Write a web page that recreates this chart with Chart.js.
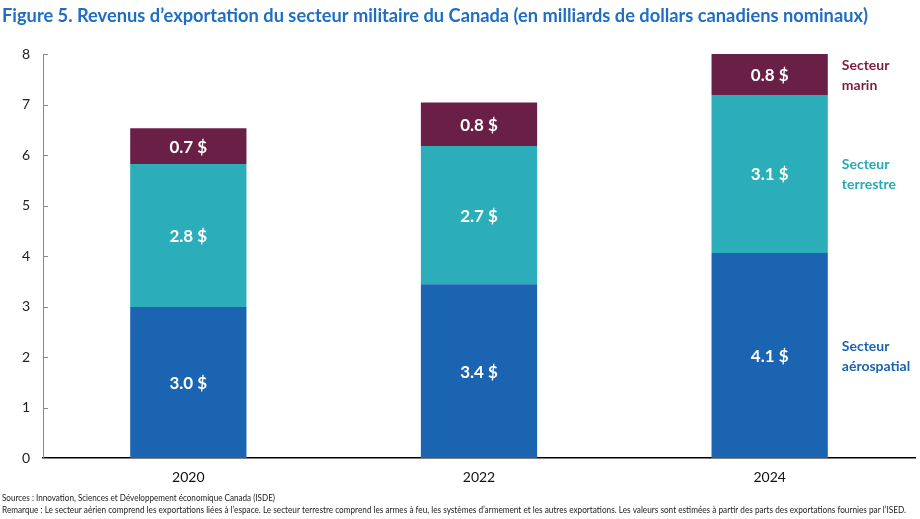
<!DOCTYPE html>
<html lang="fr">
<head>
    <meta charset="UTF-8">
    <title>Revenus d'exportation du secteur militaire du Canada</title>
    <script src="https://cdn.jsdelivr.net/npm/chart.js"></script>
    <style>
        html, body { margin: 0; padding: 0; background: #fff; }
        #wrap { width: 920px; height: 519px; position: relative; }
    </style>
</head>
<body>
    <div id="wrap"><canvas id="exportChart"></canvas></div>

    <script>
        // Data (milliards de $ CA nominaux)
        const years = ['2020', '2022', '2024'];
        const aerospatial = [2.99, 3.44, 4.06];
        const terrestre = [2.83, 2.74, 3.13];
        const marin = [0.71, 0.86, 0.81];
        const aeroLabels = ['3.0 $', '3.4 $', '4.1 $'];
        const terrestreLabels = ['2.8 $', '2.7 $', '3.1 $'];
        const marinLabels = ['0.7 $', '0.8 $', '0.8 $'];
        const yTicks = [0, 1, 2, 3, 4, 5, 6, 7, 8];
        const seriesNames = [['Secteur', 'aérospatial'], ['Secteur', 'terrestre'], ['Secteur', 'marin']];

        const titleText = 'Figure 5. Revenus d\u2019exportation du secteur militaire du Canada (en milliards de dollars canadiens nominaux)';
        const sourceText = 'Sources : Innovation, Sciences et Développement économique Canada (ISDE)';
        const noteText = 'Remarque : Le secteur aérien comprend les exportations liées à l\u2019espace. Le secteur terrestre comprend les armes à feu, les systèmes d\u2019armement et les autres exportations. Les valeurs sont estimées à partir des parts des exportations fournies par l\u2019ISED.';

        const FONT = 'Lato, "Open Sans", sans-serif';
        const colors = ['#1B64B1', '#2CAEBA', '#6A2046'];
        const nameColors = ['#1B64B1', '#27A9B7', '#7A1D42'];

        // labels inside bars, series names, inside ticks, title and notes
        const decorPlugin = {
            id: 'decor',
            afterDraw(chart) {
                const ctx = chart.ctx;
                const allLabels = [aeroLabels, terrestreLabels, marinLabels];
                ctx.save();
                ctx.textAlign = 'center';
                ctx.textBaseline = 'middle';
                ctx.fillStyle = '#fff';
                ctx.font = 'bold 17px ' + FONT;
                chart.data.datasets.forEach((ds, i) => {
                    chart.getDatasetMeta(i).data.forEach((bar, j) => {
                        ctx.fillText(allLabels[i][j], bar.x, (bar.y + bar.base) / 2 + 1);
                    });
                });

                // series names next to the last bar
                ctx.textAlign = 'left';
                ctx.font = 'bold 14px ' + FONT;
                chart.data.datasets.forEach((ds, i) => {
                    const meta = chart.getDatasetMeta(i);
                    const bar = meta.data[meta.data.length - 1];
                    const cy = (bar.y + bar.base) / 2;
                    ctx.fillStyle = nameColors[i];
                    const lines = seriesNames[i];
                    lines.forEach((ln, k) => {
                        ctx.fillText(ln, bar.x + bar.width / 2 + 14, cy + 1 + (k - (lines.length - 1) / 2) * 20);
                    });
                });

                // y ticks drawn inside the plot
                const y = chart.scales.y;
                ctx.strokeStyle = '#888';
                ctx.lineWidth = 1;
                yTicks.forEach(v => {
                    const py = Math.round(y.getPixelForValue(v)) + 0.5;
                    ctx.beginPath();
                    ctx.moveTo(chart.chartArea.left, py);
                    ctx.lineTo(chart.chartArea.left + 5, py);
                    ctx.stroke();
                });

                // title
                ctx.textBaseline = 'alphabetic';
                ctx.fillStyle = '#1F6EC3';
                ctx.font = 'bold 18.4px ' + FONT;
                ctx.fillText(titleText, 2, 22, 866);

                // notes
                ctx.fillStyle = '#222';
                ctx.font = '9px ' + FONT;
                ctx.fillText(sourceText, 2, 501, 273);
                ctx.fillText(noteText, 2, 513, 904);
                ctx.restore();
            }
        };

        const ctx = document.getElementById('exportChart').getContext('2d');
        new Chart(ctx, {
            type: 'bar',
            data: {
                labels: years,
                datasets: [
                    { label: 'Secteur aérospatial', data: aerospatial, backgroundColor: colors[0] },
                    { label: 'Secteur terrestre', data: terrestre, backgroundColor: colors[1] },
                    { label: 'Secteur marin', data: marin, backgroundColor: colors[2] }
                ].map(d => Object.assign(d, { barPercentage: 0.4, categoryPercentage: 1, borderWidth: 0 }))
            },
            options: {
                responsive: true,
                maintainAspectRatio: false,
                animation: false,
                layout: { padding: { top: 54, right: 5, left: 0, bottom: 0 } },
                plugins: {
                    legend: { display: false },
                    tooltip: { enabled: false }
                },
                scales: {
                    x: {
                        stacked: true,
                        grid: { display: false, drawTicks: false },
                        border: { color: '#000', width: 1.5 },
                        ticks: { color: '#111', font: { family: FONT, size: 14 }, padding: 11 },
                        afterFit: s => { s.height = 61; }
                    },
                    y: {
                        stacked: true,
                        min: 0,
                        max: 8,
                        grid: { display: false, drawTicks: false },
                        border: { color: '#888', width: 1 },
                        ticks: { stepSize: 1, color: '#222', font: { family: FONT, size: 14 }, padding: 13 },
                        afterFit: s => { s.width = 43; }
                    }
                }
            },
            plugins: [decorPlugin]
        });
    </script>
</body>
</html>
